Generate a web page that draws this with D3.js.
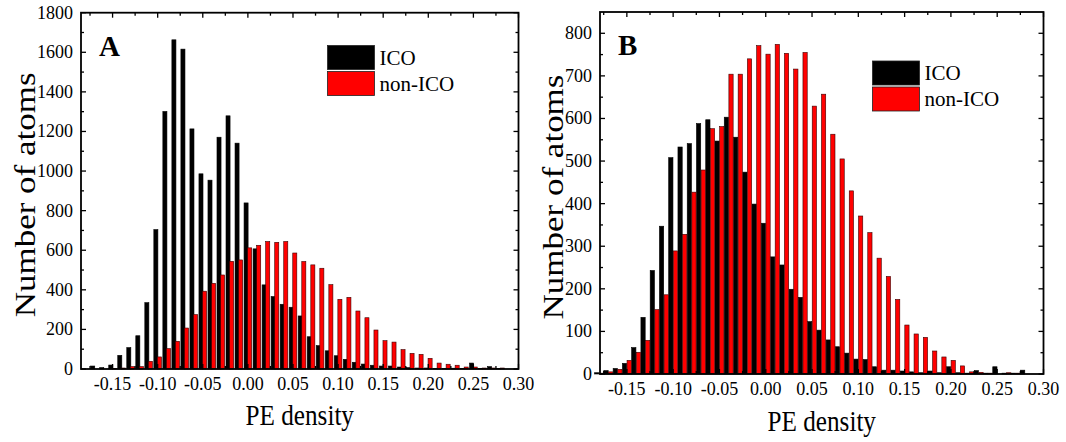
<!DOCTYPE html>
<html>
<head>
<meta charset="utf-8">
<script src="https://cdn.jsdelivr.net/npm/d3@7"></script>
<style>
  html, body { margin: 0; padding: 0; background: #fff; }
  svg { display: block; }
  text { font-family: "Liberation Serif", "Times New Roman", serif; fill: #000; }
</style>
</head>
<body>
<svg id="chart" width="1066" height="442"></svg>
<script>
// PE-density bin centres (hundredths) and atom counts per bin
const binsA = d3.range(-17, 29).map(k => k / 100);
const icoA = [15, 7, 20, 69, 108, 168, 335, 704, 1301, 1663, 1616, 1213, 986, 954, 1171, 1279, 1141,
  839, 607, 425, 366, 327, 312, 268, 163, 118, 92, 67, 49, 34, 25, 19, 15, 15, 10, 7, 5, 5, 3, 3, 4, 2, 30, 3, 12, 3];
const nonIcoA = [0, 0, 3, 5, 12, 12, 39, 61, 103, 140, 207, 275, 393, 433, 475, 544, 551,
  612, 625, 644, 640, 644, 586, 543, 526, 509, 426, 352, 362, 293, 259, 197, 143, 136, 98, 79, 74, 54, 30, 24, 19, 10, 10, 5, 5, 5];

const binsB = d3.range(-18, 29).map(k => k / 100);
const icoB = [3, 8, 13, 25, 62, 133, 243, 347, 508, 533, 541, 588, 597, 547, 603, 556, 474, 399,
  354, 275, 256, 199, 180, 123, 103, 80, 64, 49, 35, 34, 17, 9, 9, 7, 5, 3, 7, 3, 17, 3, 2, 8, 2, 17, 2, 2, 9];
const nonIcoB = [2, 5, 11, 32, 51, 79, 151, 186, 289, 328, 427, 479, 576, 581, 704, 704, 740, 771,
  751, 774, 753, 716, 755, 629, 657, 563, 505, 430, 371, 332, 272, 229, 175, 115, 94, 86, 54, 40, 32, 19, 5, 4, 2, 0, 3, 2, 0];

const xTicks = [-0.15, -0.10, -0.05, 0.00, 0.05, 0.10, 0.15, 0.20, 0.25, 0.30];
const seriesNames = ["ICO", "non-ICO"];
const seriesColors = ["#000000", "#ff0000"];

const svg = d3.select("#chart");

function drawPanel(p) {
  const g = svg.append("g");
  const x = d3.scaleLinear().domain(p.xDomain).range([p.left, p.right]);
  const y = d3.scaleLinear().domain([0, p.yMax]).range([p.bottom, p.top]);
  const w = p.right - p.left, h = p.bottom - p.top;

  // bars: ICO on the left of each bin, non-ICO on the right
  const series = [p.ico, p.nonIco];
  series.forEach((vals, si) => {
    const off = si === 0 ? -p.offset : p.offset;
    g.append("g").selectAll("rect").data(p.bins.map((b, i) => ({ b, v: vals[i] })))
      .join("rect")
      .attr("x", d => x(d.b + off - p.barW / 2))
      .attr("width", d => x(d.b + p.barW) - x(d.b))
      .attr("y", d => y(d.v))
      .attr("height", d => Math.max(0, y(0) - y(d.v)))
      .attr("fill", seriesColors[si])
      .attr("stroke", si === 0 ? "#000" : "#3a0000")
      .attr("stroke-width", 0.6);
  });

  // inward ticks on all four sides
  const xMajor = xTicks;
  const xMinor = d3.range(-0.175, 0.3001, 0.05).filter(v => v > p.xDomain[0]);
  const yMajor = d3.range(0, p.yMax + 1, p.yStep);
  const yMinor = d3.range(p.yStep / 2, p.yMax, p.yStep);
  const ticks = g.append("g").attr("stroke", "#000").attr("stroke-width", 1.3);
  [[xMajor, 5], [xMinor, 3]].forEach(([vals, len]) => {
    vals.forEach(v => {
      const xv = x(v);
      ticks.append("line").attr("x1", xv).attr("x2", xv).attr("y1", p.bottom).attr("y2", p.bottom - len);
      ticks.append("line").attr("x1", xv).attr("x2", xv).attr("y1", p.top).attr("y2", p.top + len);
    });
  });
  [[yMajor, 5], [yMinor, 3]].forEach(([vals, len]) => {
    vals.forEach(v => {
      const yv = y(v);
      ticks.append("line").attr("x1", p.left).attr("x2", p.left + len).attr("y1", yv).attr("y2", yv);
      ticks.append("line").attr("x1", p.right).attr("x2", p.right - len).attr("y1", yv).attr("y2", yv);
    });
  });

  // frame
  g.append("rect").attr("x", p.left).attr("y", p.top).attr("width", w).attr("height", h)
    .attr("fill", "none").attr("stroke", "#000").attr("stroke-width", 1.8);

  // tick labels
  g.append("g").selectAll("text").data(xMajor).join("text")
    .attr("x", d => x(d)).attr("y", p.bottom + 21)
    .attr("text-anchor", "middle").attr("font-size", 18)
    .text(d => d3.format(".2f")(d).replace("−", "-"));
  g.append("g").selectAll("text").data(yMajor).join("text")
    .attr("x", p.left - 8).attr("y", d => y(d) + 6)
    .attr("text-anchor", "end").attr("font-size", 18)
    .text(d => d);

  // axis titles (set in a slightly condensed face)
  g.append("text")
    .attr("transform", `translate(${(p.left + p.right) / 2},${p.bottom + p.xTitleDy}) scale(0.84,1)`)
    .attr("text-anchor", "middle").attr("font-size", 30).text("PE density");
  g.append("text")
    .attr("transform", `translate(${p.yTitleX},${(p.top + p.bottom) / 2 + 4}) rotate(-90) scale(1,0.82)`)
    .attr("text-anchor", "middle").attr("font-size", 35).text("Number of atoms");

  // panel letter
  g.append("text").attr("x", p.left + 18).attr("y", p.top + 43)
    .attr("font-size", 29).attr("font-weight", "bold").text(p.letter);

  // legend
  const lg = g.append("g").attr("transform", `translate(${p.legX},${p.legY})`);
  seriesNames.forEach((name, i) => {
    lg.append("rect").attr("x", 0).attr("y", i * 26).attr("width", 47).attr("height", 24)
      .attr("fill", seriesColors[i]).attr("stroke", "#222").attr("stroke-width", 0.8);
    lg.append("text").attr("x", 52).attr("y", i * 26 + 19).attr("font-size", 21).text(name);
  });
}

drawPanel({
  letter: "A", bins: binsA, ico: icoA, nonIco: nonIcoA,
  xDomain: [-0.185, 0.30], yMax: 1800, yStep: 200,
  left: 81, right: 518.5, top: 12.7, bottom: 369,
  offset: 0.002, barW: 0.0045, yTitleX: 35, xTitleDy: 56, legX: 327.5, legY: 45.5
});
drawPanel({
  letter: "B", bins: binsB, ico: icoB, nonIco: nonIcoB,
  xDomain: [-0.179, 0.30], yMax: 850, yStep: 100,
  left: 600, right: 1043.5, top: 12, bottom: 374,
  offset: 0.0025, barW: 0.0046, yTitleX: 563, xTitleDy: 57, legX: 872.5, legY: 61
});
</script>
</body>
</html>
